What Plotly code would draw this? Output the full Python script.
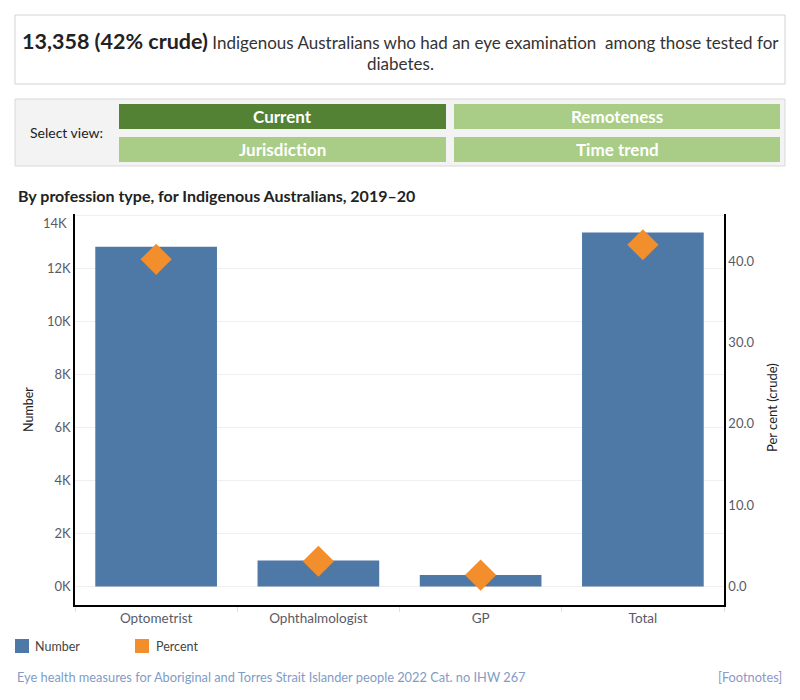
import plotly.graph_objects as go

categories = ["Optometrist", "Ophthalmologist", "GP", "Total"]
numbers = [12820, 985, 430, 13358]
percents = [40.2, 3.1, 1.4, 42.0]
left_ticks = [0, 2000, 4000, 6000, 8000, 10000, 12000, 14000]
left_tick_labels = ["0K", "2K", "4K", "6K", "8K", "10K", "12K", "14K"]
right_ticks = [0, 10, 20, 30, 40]
buttons = [("Current", True), ("Remoteness", False), ("Jurisdiction", False), ("Time trend", False)]

W, H = 800, 700
FONT = "Lato"


def px(x):
    return x / W


def py(y):
    return 1 - y / H


BAR_COLOR = "#4e79a7"
DIAMOND_COLOR = "#f28e2b"
TICK_COLOR = "#5a5a66"

fig = go.Figure()
fig.add_trace(go.Bar(
    x=categories, y=numbers, marker=dict(color=BAR_COLOR, line=dict(width=0)),
    name="Number", showlegend=False, yaxis="y",
))
fig.add_trace(go.Scatter(
    x=categories, y=percents, mode="markers", yaxis="y2", name="Percent",
    marker=dict(symbol="diamond", size=24, color=DIAMOND_COLOR, line=dict(width=0)),
    showlegend=False,
))

plot_top, plot_bottom = 214, 605
shapes = []
annotations = []

# Header box
shapes.append(dict(type="rect", xref="paper", yref="paper", x0=px(15), x1=px(785), y0=py(84), y1=py(15),
                   line=dict(color="#d3d3d3", width=1), fillcolor="white", layer="below"))
annotations.append(dict(xref="paper", yref="paper", x=px(400), y=py(41), xanchor="center", yanchor="middle",
                        showarrow=False,
                        text="<span style='font-size:21.5px;color:#222'><b>13,358 (42% crude)</b></span>"
                             "<span style='font-size:17px;color:#333'> Indigenous Australians who had an eye examination  among those tested for</span>",
                        font=dict(family=FONT, size=17, color="#333")))
annotations.append(dict(xref="paper", yref="paper", x=px(400), y=py(64), xanchor="center", yanchor="middle",
                        showarrow=False, text="diabetes.", font=dict(family=FONT, size=17, color="#333")))

# Select view box
shapes.append(dict(type="rect", xref="paper", yref="paper", x0=px(15), x1=px(785), y0=py(166), y1=py(99),
                   line=dict(color="#d9d9d9", width=1), fillcolor="#f3f3f3", layer="below"))
annotations.append(dict(xref="paper", yref="paper", x=px(66), y=py(133), xanchor="center", yanchor="middle",
                        showarrow=False, text="Select view:", font=dict(family=FONT, size=14, color="#222")))
btn_boxes = [(119, 446, 104, 129), (454, 780, 104, 129), (119, 446, 137, 162), (454, 780, 137, 162)]
for (label, active), (x0, x1, y0, y1) in zip(buttons, btn_boxes):
    shapes.append(dict(type="rect", xref="paper", yref="paper", x0=px(x0), x1=px(x1), y0=py(y1), y1=py(y0),
                       line=dict(width=0), fillcolor="#548234" if active else "#a9cd86", layer="below"))
    annotations.append(dict(xref="paper", yref="paper", x=px((x0 + x1) / 2), y=py((y0 + y1) / 2),
                            xanchor="center", yanchor="middle", showarrow=False, text=f"<b>{label}</b>",
                            font=dict(family=FONT, size=17, color="white")))

# Chart title
annotations.append(dict(xref="paper", yref="paper", x=px(16), y=py(195), xanchor="left", yanchor="middle",
                        showarrow=False, text="<b>By profession type, for Indigenous Australians, 2019–20</b>",
                        font=dict(family=FONT, size=16, color="#222")))

# Axis titles
annotations.append(dict(xref="paper", yref="paper", x=px(28), y=py(410), xanchor="center", yanchor="middle",
                        showarrow=False, text="Number", textangle=-90,
                        font=dict(family=FONT, size=12.5, color="#222")))
annotations.append(dict(xref="paper", yref="paper", x=px(772), y=py(408), xanchor="center", yanchor="middle",
                        showarrow=False, text="Per cent (crude)", textangle=-90,
                        font=dict(family=FONT, size=13, color="#222")))

# Top tick label sits slightly below its gridline (as in the original)
tick_text_axis = list(left_tick_labels[:-1]) + [""]
annotations.append(dict(xref="paper", yref="paper", x=px(69), y=py(223), xanchor="right", yanchor="middle",
                        showarrow=False, text=left_tick_labels[-1],
                        font=dict(family=FONT, size=13, color=TICK_COLOR)))

# Zero line (dotted)
shapes.append(dict(type="line", xref="paper", yref="y", x0=px(75), x1=px(724), y0=0, y1=0,
                   line=dict(color="#c0c0c0", width=1, dash="dot"), layer="below"))

# Legend
shapes.append(dict(type="rect", xref="paper", yref="paper", x0=px(15), x1=px(29), y0=py(653), y1=py(639),
                   line=dict(width=0), fillcolor=BAR_COLOR))
annotations.append(dict(xref="paper", yref="paper", x=px(33), y=py(646), xanchor="left", yanchor="middle",
                        showarrow=False, text="Number", font=dict(family=FONT, size=12.5, color="#444")))
shapes.append(dict(type="rect", xref="paper", yref="paper", x0=px(135), x1=px(149), y0=py(653), y1=py(639),
                   line=dict(width=0), fillcolor=DIAMOND_COLOR))
annotations.append(dict(xref="paper", yref="paper", x=px(154), y=py(646), xanchor="left", yanchor="middle",
                        showarrow=False, text="Percent", font=dict(family=FONT, size=12.5, color="#444")))

# Footer
annotations.append(dict(xref="paper", yref="paper", x=px(15), y=py(677), xanchor="left", yanchor="middle",
                        showarrow=False,
                        text="Eye health measures for Aboriginal and Torres Strait Islander people 2022 Cat. no IHW 267",
                        font=dict(family=FONT, size=12.8, color="#7f9cc6")))
annotations.append(dict(xref="paper", yref="paper", x=px(784), y=py(677), xanchor="right", yanchor="middle",
                        showarrow=False, text="[Footnotes]", font=dict(family=FONT, size=12.8, color="#8f96c8")))

# Axis scaling in pixels
zero_px, grid14_px, pct40_px = 586.5, 215.5, 261.0
per_k = (zero_px - grid14_px) / 14000
y_min = -(plot_bottom - zero_px) / per_k
y_max = (zero_px - plot_top) / per_k
per_pct = (zero_px - pct40_px) / 40
y2_min = -(plot_bottom - zero_px) / per_pct
y2_max = (zero_px - plot_top) / per_pct

fig.update_layout(
    width=W, height=H,
    margin=dict(l=0, r=0, t=0, b=0, autoexpand=False),
    paper_bgcolor="white", plot_bgcolor="white",
    font=dict(family=FONT, size=13, color=TICK_COLOR),
    bargap=0.25,
    xaxis=dict(domain=[px(75), px(724)], showline=True, linecolor="black", linewidth=1.5, automargin=False,
               ticks="outside", tickson="boundaries", ticklen=5, tickcolor="#e0e0e0",
               tickfont=dict(family=FONT, size=13.5, color=TICK_COLOR), showgrid=False, fixedrange=True),
    yaxis=dict(domain=[py(plot_bottom), py(plot_top)], range=[y_min, y_max], automargin=False,
               tickvals=left_ticks, ticktext=tick_text_axis, showline=True, linecolor="black", linewidth=1.5,
               showgrid=True, gridcolor="#efefef", zeroline=False, ticks="",
               tickfont=dict(family=FONT, size=13, color=TICK_COLOR)),
    yaxis2=dict(overlaying="y", side="right", range=[y2_min, y2_max], tickvals=right_ticks, automargin=False,
                tickformat=".1f", showline=True, linecolor="black", linewidth=1.5, showgrid=False,
                zeroline=False, ticks="", tickfont=dict(family=FONT, size=13, color=TICK_COLOR)),
    shapes=shapes, annotations=annotations,
)

fig.write_html("out.html")
